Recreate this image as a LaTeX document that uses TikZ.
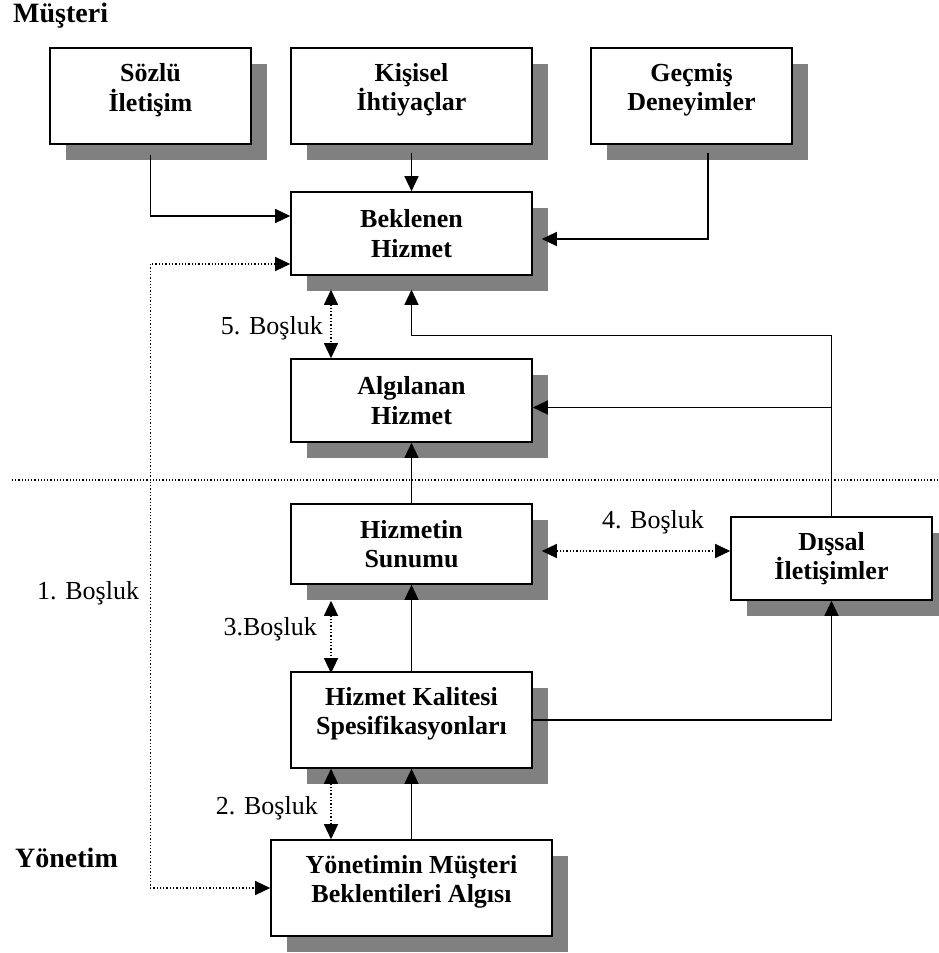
\documentclass[tikz,border=0pt]{standalone}
\usepackage{fontspec}
\setmainfont{Liberation Serif}
\usetikzlibrary{arrows.meta,shadows}
\definecolor{shadowgray}{RGB}{128,128,128}

\begin{document}
\begin{tikzpicture}[x=1pt,y=-1pt,
  box/.style={draw, line width=1.6pt, fill=white, minimum width=241pt,
    minimum height=83pt, inner sep=0pt,
    general shadow={fill=shadowgray, shadow xshift=16pt, shadow yshift=-16pt}},
  tall/.style={minimum height=96pt},
  boxtext/.style={font=\bfseries\fontsize{26}{29.5}\selectfont, align=center, inner sep=0pt},
  gap/.style={font=\fontsize{26}{30}\selectfont, inner sep=0pt},
  side/.style={font=\bfseries\fontsize{28}{32}\selectfont, inner sep=0pt},
  link/.style={line width=1.3pt, -{Triangle[length=15pt 0,width=14pt 0]}},
  gaplink/.style={line width=1.3pt, dash pattern=on 1.3pt off 2pt,
    {Triangle[length=15pt 0,width=14pt 0]}-{Triangle[length=15pt 0,width=14pt 0]}},
  sepline/.style={line width=1.2pt, dash pattern=on 1.2pt off 2pt},
]
\useasboundingbox (0,0) rectangle (939,953);

% customer-side boxes
\node[box, tall, minimum width=201pt] (sozlu) at (150.5,96) {};
\node[boxtext] (sozlu-t) at ([yshift=6pt]sozlu.center) {Sözlü\\İletişim};
\node[box, tall] (kisisel) at (411.5,96) {};
\node[boxtext] (kisisel-t) at ([yshift=6pt]kisisel.center) {Kişisel\\İhtiyaçlar};
\node[box, tall, minimum width=201pt] (gecmis) at (691.5,96) {};
\node[boxtext] (gecmis-t) at ([yshift=6pt]gecmis.center) {Geçmiş\\Deneyimler};
\node[box] (beklenen) at (411.5,233.5) {};
\node[boxtext] (beklenen-t) at (beklenen.center) {Beklenen\\Hizmet};
\node[box] (algilanan) at (411.5,400.5) {};
\node[boxtext] (algilanan-t) at (algilanan.center) {Algılanan\\Hizmet};

% management-side boxes
\node[box, minimum height=80pt] (sunumu) at (411.5,544) {};
\node[boxtext] (sunumu-t) at (sunumu.center) {Hizmetin\\Sunumu};
\node[box, minimum width=201pt] (dissal) at (831.5,558.5) {};
\node[boxtext] (dissal-t) at (dissal.center) {Dışsal\\İletişimler};
\node[box, tall] (kalite) at (411.5,720) {};
\node[boxtext] (kalite-t) at ([yshift=6pt]kalite.center) {Hizmet Kalitesi\\Spesifikasyonları};
\node[box, tall, minimum width=281pt] (yonetim) at (411.5,888) {};
\node[boxtext] (yonetim-t) at ([yshift=6pt]yonetim.center) {Yönetimin Müşteri\\Beklentileri Algısı};

% side headings and gap labels
\node[side, anchor=west] (musteri) at (13,16) {Müşteri};
\node[side, anchor=west] (yonetim-lbl) at (15,858) {Yönetim};
\node[gap, anchor=west] (g1) at (37,593) {1. Boşluk};
\node[gap, anchor=east] (g2) at (318,808) {2. Boşluk};
\node[gap, anchor=east] (g3) at (317,629) {3.Boşluk};
\node[gap] (g4) at (653,522) {4. Boşluk};
\node[gap, anchor=east] (g5) at (323,328) {5. Boşluk};

% customer / management boundary
\coordinate (sepL) at (12,480);
\coordinate (sepR) at (939,480);
\draw[sepline] (sepL) -- (sepR);

% influences on expected service
\draw[link] ([yshift=-10pt]sozlu.south) |- ([yshift=17.5pt]beklenen.west);
\draw[link] ([yshift=-8pt]kisisel.south) -- (beklenen.north);
\draw[link] ([xshift=16.5pt,yshift=-8pt]gecmis.south) |- ([xshift=9pt,yshift=-5.5pt]beklenen.east);

% external communications
\draw[link] (dissal.north) |- ([yshift=-60pt]beklenen.south) -- ([yshift=-14pt]beklenen.south);
\coordinate (jA) at (dissal.north |- algilanan.east);
\draw[link] ([yshift=-7pt]jA) -- ([yshift=-7pt]algilanan.east);
\draw[link] (kalite.east) -| (dissal.south);

% service chain
\draw[link] (sunumu.north) -- (algilanan.south);
\draw[link] (kalite.north) -- (sunumu.south);
\draw[link] (yonetim.north) -- (kalite.south);

% gaps
\draw[gaplink] ([yshift=-30.5pt]beklenen.west) -| ([xshift=-120pt]yonetim.west) -- (yonetim.west);
\draw[gaplink] ([xshift=-80.5pt]kalite.south) -- ([xshift=-80.5pt]yonetim.north);
\draw[gaplink] ([xshift=-80.5pt,yshift=-16pt]sunumu.south) -- ([xshift=-80.5pt,yshift=-2pt]kalite.north);
\coordinate (jB) at (sunumu.east -| dissal.west);
\draw[gaplink] ([xshift=9pt,yshift=-7pt]sunumu.east) -- ([yshift=-7pt]jB);
\draw[gaplink] ([xshift=-80.5pt,yshift=-14pt]beklenen.south) -- ([xshift=-80.5pt]algilanan.north);
\end{tikzpicture}
\end{document}
